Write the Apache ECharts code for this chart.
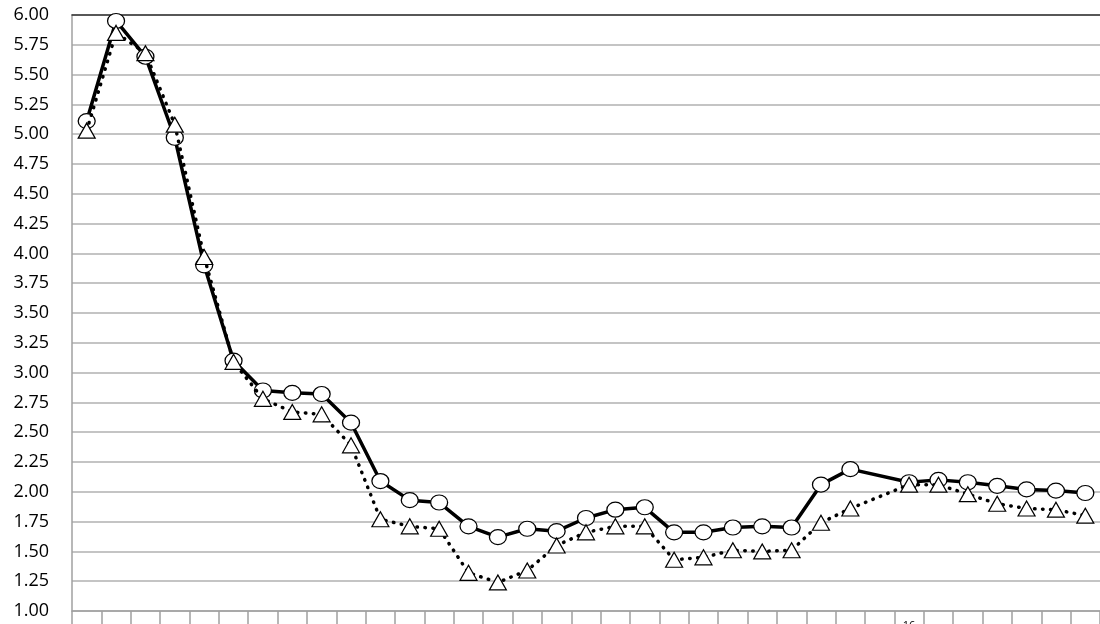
<!DOCTYPE html>
<html>
<head>
<meta charset="utf-8">
<script src="https://cdn.jsdelivr.net/npm/echarts@6/dist/echarts.min.js"></script>
<style>
  html, body { margin: 0; padding: 0; background: #fff; }
  #chart { width: 1100px; height: 624px; }
</style>
</head>
<body>
<div id="chart"></div>
<script>
// tick labels along the x axis (only one is printed in the source picture)
const categories = [
  "", "", "", "", "", "", "", "", "", "", "", "", "", "", "", "", "", "",
  "", "", "", "", "", "", "", "", "", "", "16", "", "", "", "", "", ""
];
// circle series, solid line
const circleValues = [
  5.11, 5.95, 5.65, 4.97, 3.90, 3.10, 2.85, 2.83, 2.82, 2.58,
  2.09, 1.93, 1.91, 1.71, 1.62, 1.69, 1.67, 1.78, 1.85, 1.87,
  1.66, 1.66, 1.70, 1.71, 1.70, 2.06, 2.19, null, 2.08, 2.10,
  2.08, 2.05, 2.02, 2.01, 1.99
];
// triangle series, dotted line
const triangleValues = [
  5.03, 5.85, 5.68, 5.08, 3.97, 3.09, 2.78, 2.67, 2.65, 2.39,
  1.77, 1.71, 1.69, 1.32, 1.24, 1.34, 1.55, 1.66, 1.71, 1.71,
  1.43, 1.45, 1.51, 1.50, 1.51, 1.74, 1.86, null, 2.06, 2.06,
  1.98, 1.90, 1.86, 1.85, 1.80
];

const myChart = echarts.init(document.getElementById("chart"));
const option = {
  animation: false,
  grid: {
    left: 72,
    right: 0,
    top: 15,
    bottom: 13,
    containLabel: false,
    outerBoundsMode: "none",
  },
  xAxis: [
    {
      type: "category",
      data: categories,
      boundaryGap: true,
      axisLine: { lineStyle: { color: "#a0a0a0", width: 1.5 } },
      axisTick: { show: true, interval: 0, length: 16, lineStyle: { color: "#a0a0a0", width: 1.5 } },
      axisLabel: { interval: 0, margin: 9, color: "#000", fontSize: 11, fontFamily: "Open Sans" },
      splitLine: { show: false },
    },
    {
      type: "category",
      position: "top",
      data: categories,
      axisLine: { lineStyle: { color: "#333", width: 1.5 } },
      axisTick: { show: false },
      axisLabel: { show: false },
    },
  ],
  yAxis: {
    type: "value",
    min: 1,
    max: 6,
    interval: 0.25,
    axisLine: { show: true, lineStyle: { color: "#a0a0a0", width: 1.5 } },
    axisTick: { show: false },
    axisLabel: {
      color: "#000",
      fontSize: 18,
      fontFamily: "Open Sans",
      margin: 23,
      formatter: (v) => v.toFixed(2),
    },
    splitLine: { lineStyle: { color: "#b0b0b0", width: 1.5 } },
  },
  series: [
    {
      name: "circle",
      type: "line",
      data: circleValues,
      connectNulls: true,
      symbol: "circle",
      symbolSize: [17, 15],
      lineStyle: { color: "#000", width: 3.5 },
      itemStyle: { color: "#fff", borderColor: "#000", borderWidth: 1.2 },
      z: 2,
    },
    {
      name: "triangle",
      type: "line",
      data: triangleValues,
      connectNulls: true,
      symbol: "triangle",
      symbolSize: [17, 15],
      lineStyle: { color: "#000", width: 3.5, type: [0.5, 7.5], cap: "round" },
      itemStyle: { color: "#fff", borderColor: "#000", borderWidth: 1.2 },
      z: 3,
    },
  ],
};
myChart.setOption(option);
</script>
</body>
</html>
